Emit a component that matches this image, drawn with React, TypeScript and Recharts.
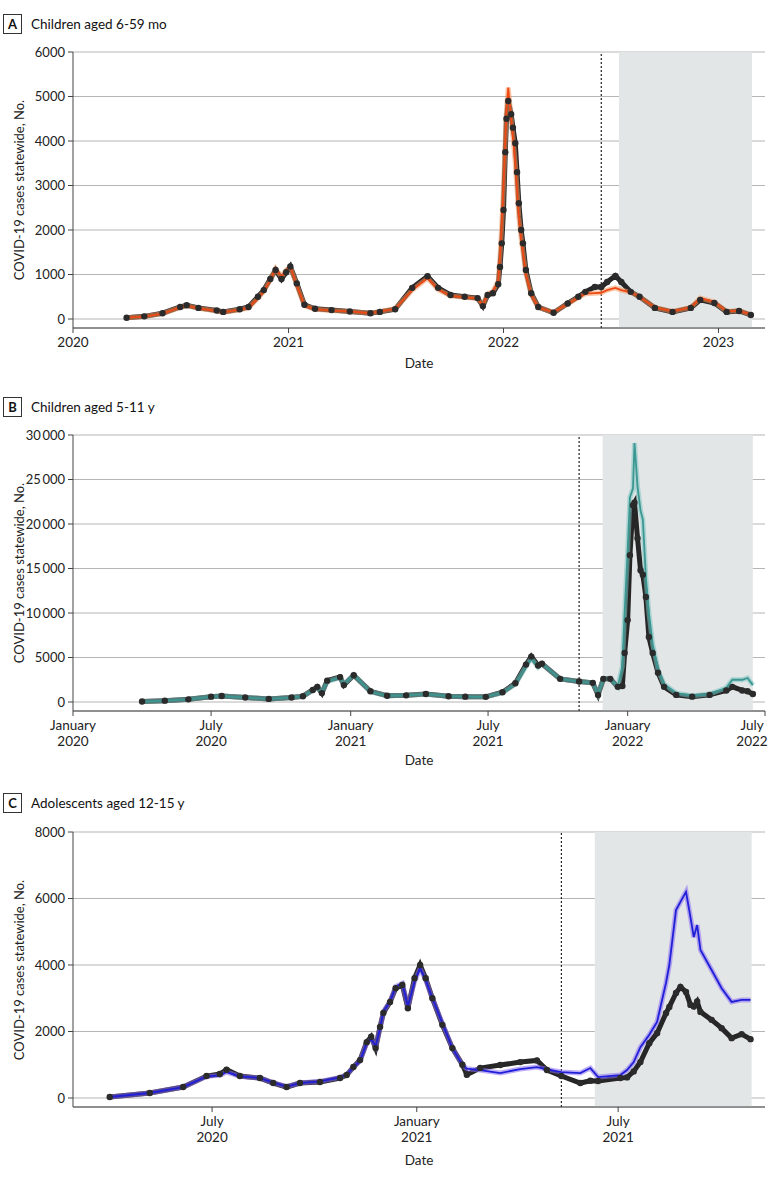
import React from 'react';
import {
  ComposedChart,
  Line,
  XAxis,
  YAxis,
  CartesianGrid,
  ReferenceArea,
  ReferenceLine,
} from 'recharts';

const FONT = 'Lato, "Open Sans", sans-serif';

// Panel A – children aged 6-59 mo
const aDates = [
  '2020-04-01', '2020-05-01', '2020-06-01', '2020-07-01', '2020-07-12', '2020-08-01',
  '2020-09-01', '2020-09-12', '2020-10-10', '2020-10-25', '2020-11-10', '2020-11-20',
  '2020-12-01', '2020-12-10', '2020-12-20', '2020-12-28', '2021-01-04', '2021-01-15',
  '2021-01-28', '2021-02-15', '2021-03-15', '2021-04-15', '2021-05-20', '2021-06-05',
  '2021-07-01', '2021-07-30', '2021-08-25', '2021-09-12', '2021-10-03', '2021-10-27',
  '2021-11-18', '2021-11-27', '2021-12-05', '2021-12-14', '2021-12-23', '2021-12-26',
  '2021-12-29', '2022-01-01', '2022-01-04', '2022-01-06', '2022-01-09', '2022-01-14',
  '2022-01-17', '2022-01-21', '2022-01-24', '2022-01-27', '2022-01-31', '2022-02-03',
  '2022-02-08', '2022-02-17', '2022-03-01', '2022-03-27', '2022-04-20', '2022-05-08',
  '2022-05-20', '2022-06-05', '2022-06-16', '2022-06-26', '2022-07-10', '2022-07-20',
  '2022-08-05', '2022-08-20', '2022-09-15', '2022-10-15', '2022-11-15', '2022-12-01',
  '2022-12-25', '2023-01-15', '2023-02-05', '2023-02-25',
];
const aObserved = [
  30, 60, 130, 270, 310, 250,
  190, 160, 220, 270, 500, 650,
  900, 1100, 900, 1050, 1180, 800,
  320, 230, 200, 170, 130, 160,
  220, 700, 960, 700, 540, 500,
  470, 290, 540, 580, 780, 1170,
  1700, 2450, 3750, 4500, 4900, 4600,
  4300, 3950, 3300, 2600, 2000, 1700,
  1100, 580, 270, 140, 350, 500,
  610, 720, 720, 830, 970, 830,
  610, 500, 250, 160, 250, 430,
  360, 160, 180, 90,
];
const aModel = [
  30, 55, 120, 260, 300, 240,
  180, 150, 210, 250, 470, 620,
  880, 1130, 950, 1100, 1170, 760,
  300, 220, 190, 170, 130, 170,
  230, 650, 920, 660, 520, 490,
  460, 310, 560, 620, 850, 1400,
  2100, 3000, 4000, 4700, 5200, 4500,
  4100, 3500, 2900, 2300, 1800, 1500,
  1000, 550, 260, 150, 340, 480,
  570, 580, 590, 650, 700, 650,
  600, 500, 260, 170, 260, 470,
  380, 170, 190, 100,
];

// Panel B – children aged 5-11 y
const bDates = [
  '2020-04-01', '2020-05-01', '2020-06-01', '2020-07-01', '2020-07-15', '2020-08-15',
  '2020-09-15', '2020-10-15', '2020-10-30', '2020-11-12', '2020-11-18', '2020-11-24',
  '2020-12-01', '2020-12-18', '2020-12-23', '2021-01-05', '2021-01-27', '2021-02-18',
  '2021-03-15', '2021-04-10', '2021-05-10', '2021-06-01', '2021-06-28', '2021-07-20',
  '2021-08-06', '2021-08-20', '2021-08-27', '2021-09-05', '2021-09-10', '2021-10-04',
  '2021-10-29', '2021-11-16', '2021-11-23', '2021-11-30', '2021-12-09', '2021-12-19',
  '2021-12-25', '2021-12-28', '2022-01-01', '2022-01-04', '2022-01-08', '2022-01-10',
  '2022-01-14', '2022-01-18', '2022-01-21', '2022-01-25', '2022-01-29', '2022-02-03',
  '2022-02-10', '2022-02-18', '2022-03-06', '2022-03-27', '2022-04-19', '2022-05-11',
  '2022-05-19', '2022-06-01', '2022-06-08', '2022-06-15',
];
const bObserved = [
  50, 150, 300, 600, 680, 500,
  350, 500, 650, 1350, 1700, 1000,
  2400, 2800, 1900, 3000, 1200, 700,
  750, 900, 650, 600, 580, 1100,
  2100, 4200, 5100, 4100, 4300, 2600,
  2300, 2150, 800, 2600, 2600, 1700,
  1800, 5500, 9200, 16500, 22100, 22400,
  18400, 14800, 14300, 11800, 7300, 5500,
  3300, 1700, 800, 600, 800, 1300,
  1700, 1300, 1200, 900,
];
const bModel = [
  50, 150, 300, 600, 670, 500,
  350, 500, 650, 1300, 1650, 1100,
  2300, 2750, 2000, 3050, 1150, 700,
  750, 880, 650, 600, 580, 1050,
  2000, 4000, 4900, 3900, 4300, 2600,
  2300, 2150, 900, 2600, 2600, 1700,
  4000, 10000, 17000, 23000, 24000, 29100,
  24200, 21500, 20500, 14000, 10000, 6500,
  3600, 2000, 1000, 700, 900, 1600,
  2500, 2500, 2700, 1900,
];

// Panel C – adolescents aged 12-15 y
const cDates = [
  '2020-03-31', '2020-05-06', '2020-06-05', '2020-06-26', '2020-07-08', '2020-07-14',
  '2020-07-26', '2020-08-13', '2020-08-25', '2020-09-06', '2020-09-18', '2020-10-06',
  '2020-10-24', '2020-10-30', '2020-11-05', '2020-11-11', '2020-11-17', '2020-11-21',
  '2020-11-25', '2020-11-29', '2020-12-02', '2020-12-08', '2020-12-13', '2020-12-19',
  '2020-12-24', '2020-12-30', '2021-01-04', '2021-01-09', '2021-01-15', '2021-01-24',
  '2021-02-02', '2021-02-11', '2021-02-15', '2021-02-27', '2021-03-17', '2021-04-04',
  '2021-04-19', '2021-04-28', '2021-05-11', '2021-05-28', '2021-06-06', '2021-06-13',
  '2021-07-03', '2021-07-09', '2021-07-15', '2021-07-21', '2021-07-29', '2021-08-05',
  '2021-08-13', '2021-08-16', '2021-08-22', '2021-08-26', '2021-08-31', '2021-09-04',
  '2021-09-07', '2021-09-10', '2021-09-13', '2021-09-23', '2021-10-02', '2021-10-11',
  '2021-10-20', '2021-10-28',
];
const cObserved = [
  30, 150, 330, 660, 720, 850,
  660, 600, 450, 330, 450, 480,
  600, 690, 930, 1140, 1680, 1840,
  1500, 2140, 2560, 2890, 3300, 3400,
  2700, 3600, 4000, 3600, 3000, 2200,
  1500, 1000, 700, 900, 990, 1080,
  1130, 840, 660, 450, 520, 510,
  600, 620, 800, 1080, 1650, 1950,
  2550, 2740, 3160, 3340, 3190, 2800,
  2750, 2900, 2590, 2350, 2100, 1800,
  1920, 1770,
];
const cModel = [
  30, 150, 330, 650, 680, 780,
  650, 600, 460, 340, 450, 500,
  620, 700, 920, 1120, 1650, 1780,
  1550, 2100, 2600, 2900, 3350, 3450,
  2750, 3500, 3900, 3550, 3000, 2250,
  1500, 1000, 880, 840, 750, 870,
  930, 860, 780, 750, 900, 630,
  690, 840, 1080, 1530, 1900, 2290,
  3460, 4000, 5650, 5900, 6200, 5440,
  4840, 5200, 4450, 3850, 3300, 2890,
  2950, 2950,
];

const toT = (d: string) => Date.parse(d + 'T00:00:00Z');

const buildRows = (dates: string[], obs: number[], model: number[]) =>
  dates.map((d, i) => ({ t: toT(d), obs: obs[i], model: model[i] }));

const fmtThousands = (v: number) =>
  v >= 10000 ? `${Math.floor(v / 1000)}\u2009${String(v % 1000).padStart(3, '0')}` : String(v);

const YearTick = (props: any) => {
  const { x, y, payload } = props;
  return (
    <text x={x} y={y + 14} textAnchor="middle" fontSize={13.5} fill="#222" fontFamily={FONT}>
      {new Date(payload.value).getUTCFullYear()}
    </text>
  );
};

const makeMonthTick = (lastT: number) => (props: any) => {
  const { x, y, payload } = props;
  const d = new Date(payload.value);
  const month = d.getUTCMonth() === 0 ? 'January' : 'July';
  const isLast = payload.value === lastT;
  const tx = isLast ? x - 13 : x;
  return (
    <text x={tx} y={y + 14} textAnchor="middle" fontSize={13.5} fill="#222" fontFamily={FONT}>
      <tspan x={tx} dy={0}>{month}</tspan>
      <tspan x={tx} dy={16}>{d.getUTCFullYear()}</tspan>
    </text>
  );
};

interface PanelProps {
  letter: string;
  title: string;
  top: number;
  height: number;
  boxTop: number;
  plotTop: number;
  plotBottom: number;
  dateY: number;
  rows: { t: number; obs: number; model: number }[];
  xDomain: [number, number];
  xTicks: number[];
  tick: any;
  yDomain: [number, number];
  yTicks: number[];
  color: string;
  band: string;
  cutoff: number;
  shadeFrom: number;
  shadeTo: number;
}

const Panel: React.FC<PanelProps> = (p) => {
  const xAxisH = p.height - p.plotBottom > 60 ? 50 : 40;
  const bottom = p.height - p.plotBottom - xAxisH;
  const yMid = (p.plotTop + p.plotBottom) / 2;
  return (
    <div style={{ position: 'absolute', left: 0, top: p.top, width: 783, height: p.height }}>
      <div
        style={{
          position: 'absolute', left: 3, top: p.boxTop, width: 17, height: 18,
          border: '1px solid #333', fontFamily: FONT, fontWeight: 700, fontSize: 13,
          lineHeight: '18px', textAlign: 'center', color: '#111',
        }}
      >
        {p.letter}
      </div>
      <div
        style={{
          position: 'absolute', left: 31, top: p.boxTop, height: 20, lineHeight: '20px',
          fontFamily: FONT, fontSize: 13.5, color: '#111', whiteSpace: 'nowrap',
        }}
      >
        {p.title}
      </div>
      <div style={{ position: 'absolute', left: 19, top: yMid, width: 0, height: 0 }}>
        <div
          style={{
            position: 'absolute', left: -150, top: -9, width: 300, textAlign: 'center',
            transform: 'rotate(-90deg)', fontFamily: FONT, fontSize: 13, color: '#222',
            lineHeight: '18px', whiteSpace: 'nowrap',
          }}
        >
          COVID-19 cases statewide, No.
        </div>
      </div>
      <ComposedChart
        width={783}
        height={p.height}
        data={p.rows}
        margin={{ top: p.plotTop, right: 18, bottom, left: 13 }}
        style={{ position: 'absolute', left: 0, top: 0 }}
      >
        <ReferenceArea x1={p.shadeFrom} x2={p.shadeTo} fill="#e3e6e7" fillOpacity={1} stroke="none" />
        <CartesianGrid stroke="#b5b5b5" vertical={false} />
        <ReferenceLine x={p.cutoff} stroke="#222" strokeDasharray="2 2" strokeWidth={1.2} />
        <XAxis
          dataKey="t"
          type="number"
          domain={p.xDomain}
          ticks={p.xTicks}
          interval={0}
          allowDataOverflow
          height={xAxisH}
          tick={p.tick}
          tickSize={5}
          tickMargin={0}
          axisLine={{ stroke: '#444' }}
          tickLine={{ stroke: '#444' }}
        />
        <YAxis
          type="number"
          domain={p.yDomain}
          ticks={p.yTicks}
          interval={0}
          allowDataOverflow
          width={60}
          tickSize={5}
          tickMargin={3}
          tickFormatter={fmtThousands}
          tick={{ fontSize: 13, fill: '#222', fontFamily: FONT }}
          axisLine={{ stroke: '#444' }}
          tickLine={{ stroke: '#444' }}
        />
        <Line
          dataKey="obs"
          type="linear"
          stroke="#262626"
          strokeWidth={5}
          dot={{ r: 3.2, fill: '#2b2b2b', stroke: 'none' }}
          isAnimationActive={false}
        />
        <Line
          dataKey="model"
          type="linear"
          stroke={p.band}
          strokeWidth={5}
          strokeOpacity={0.55}
          dot={false}
          isAnimationActive={false}
        />
        <Line
          dataKey="model"
          type="linear"
          stroke={p.color}
          strokeWidth={1.8}
          dot={false}
          isAnimationActive={false}
        />
      </ComposedChart>
      <div
        style={{
          position: 'absolute', left: 73, width: 692, top: p.dateY - 10, textAlign: 'center',
          fontFamily: FONT, fontSize: 13.5, color: '#222', lineHeight: '20px',
        }}
      >
        Date
      </div>
    </div>
  );
};

const App: React.FC = () => {
  const bLast = toT('2022-07-01');
  return (
    <div style={{ position: 'absolute', left: 0, top: 0, width: 783, height: 1178, background: '#fff' }}>
      <Panel
        letter="A"
        title="Children aged 6-59 mo"
        top={0}
        height={380}
        boxTop={14}
        plotTop={52}
        plotBottom={328}
        dateY={363}
        rows={buildRows(aDates, aObserved, aModel)}
        xDomain={[toT('2020-01-01'), toT('2023-03-21')]}
        xTicks={['2020-01-01', '2021-01-01', '2022-01-01', '2023-01-01'].map(toT)}
        tick={YearTick}
        yDomain={[-202, 6000]}
        yTicks={[0, 1000, 2000, 3000, 4000, 5000, 6000]}
        color="#f04a14"
        band="#f7955f"
        cutoff={toT('2022-06-16')}
        shadeFrom={toT('2022-07-16')}
        shadeTo={toT('2023-02-27')}
      />
      <Panel
        letter="B"
        title="Children aged 5-11 y"
        top={380}
        height={400}
        boxTop={17}
        plotTop={55}
        plotBottom={331}
        dateY={380}
        rows={buildRows(bDates, bObserved, bModel)}
        xDomain={[toT('2020-01-01'), bLast]}
        xTicks={['2020-01-01', '2020-07-01', '2021-01-01', '2021-07-01', '2022-01-01', '2022-07-01'].map(toT)}
        tick={makeMonthTick(bLast)}
        yDomain={[-1011, 30000]}
        yTicks={[0, 5000, 10000, 15000, 20000, 25000, 30000]}
        color="#3a9792"
        band="#7cc3bf"
        cutoff={toT('2021-10-29')}
        shadeFrom={toT('2021-11-29')}
        shadeTo={toT('2022-06-15')}
      />
      <Panel
        letter="C"
        title="Adolescents aged 12-15 y"
        top={780}
        height={398}
        boxTop={13}
        plotTop={52}
        plotBottom={327}
        dateY={380}
        rows={buildRows(cDates, cObserved, cModel)}
        xDomain={[toT('2020-02-27'), toT('2021-11-10')]}
        xTicks={['2020-07-01', '2021-01-01', '2021-07-01'].map(toT)}
        tick={makeMonthTick(0)}
        yDomain={[-271, 8000]}
        yTicks={[0, 2000, 4000, 6000, 8000]}
        color="#1f1fd8"
        band="#8a6cf0"
        cutoff={toT('2021-05-11')}
        shadeFrom={toT('2021-06-10')}
        shadeTo={toT('2021-10-29')}
      />
    </div>
  );
};

export default App;
